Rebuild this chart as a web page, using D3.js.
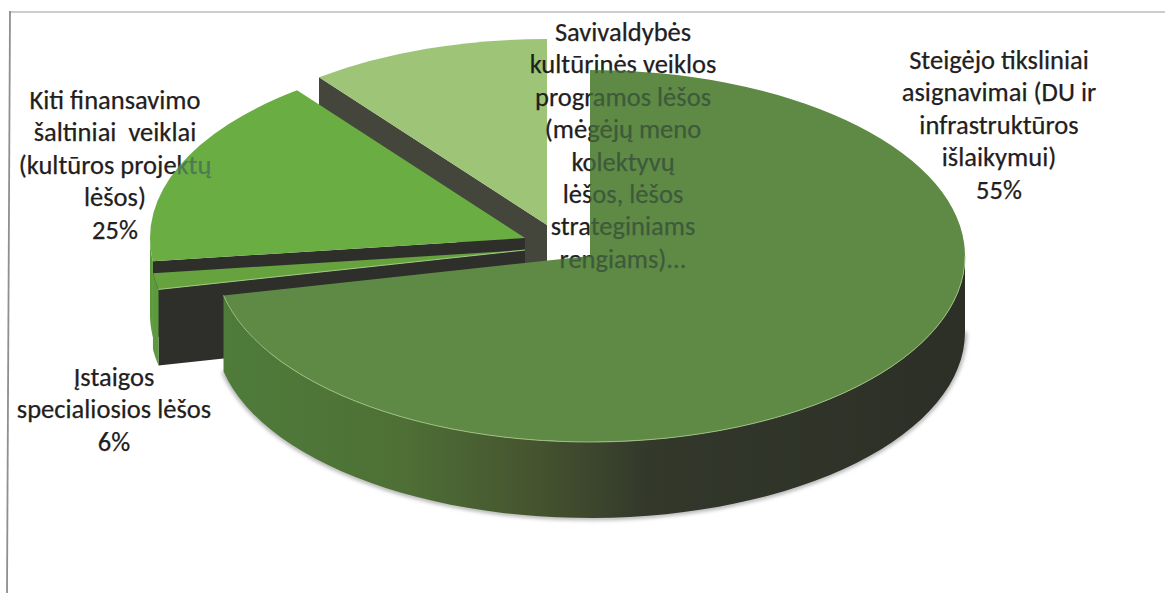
<!DOCTYPE html>
<html><head><meta charset="utf-8">
<script src="https://cdn.jsdelivr.net/npm/d3@7"></script>
<style>html,body{margin:0;padding:0;background:#fff}svg{display:block}text{font-family:Carlito,Lato,"Open Sans",sans-serif;font-size:26.5px;stroke-width:.25px}</style>
</head><body><svg id="c" width="1165" height="593"></svg>
<script>
// drawn angular shares, clockwise from 12 o'clock (as they appear in the picture)
const sliceNames = ["Steigėjo tiksliniai asignavimai","Įstaigos specialiosios lėšos","Kiti finansavimo šaltiniai","Savivaldybės programos lėšos"];
const drawnShares = [71.6, 1.4, 16.6, 10.4];
const labelLines = [
  ["Steigėjo tiksliniai","asignavimai (DU ir","infrastruktūros","išlaikymui)","55%"],
  ["Įstaigos","specialiosios lėšos","6%"],
  ["Kiti finansavimo","šaltiniai  veiklai","(kultūros projektų","lėšos)","25%"],
  ["Savivaldybės","kultūrinės veiklos","programos lėšos","(mėgėjų meno","kolektyvų","lėšos, lėšos","strateginiams","rengiams)..."]
];
const topColors  = ["#5f8a45","#66a33f","#6aae43","#9ec577"];
const wallColors = [null,"#2e2f2a","#2e2f2a","#44463c"];
const svg = d3.select("#c");
const RX = 375, RY = 186, DEPTH = 76;
const centers = [[590,256],[525,250],[525,238],[547,225]];
const labelPos = [[999,69],[114,386],[115,109],[623,41]];
const labelGap = 32.4;

const defs = svg.append("defs");
defs.append("filter").attr("id","soft").append("feGaussianBlur").attr("stdDeviation",2);
const g = defs.append("linearGradient").attr("id","wall").attr("gradientUnits","userSpaceOnUse")
  .attr("x1",215).attr("x2",965).attr("y1",0).attr("y2",0);
[[0,"#4f7c3a"],[0.247,"#4e7036"],[0.42,"#46552f"],[0.58,"#33382b"],[1,"#2c2f26"]]
  .forEach(([o,c])=>g.append("stop").attr("offset",o).attr("stop-color",c));

const pie = d3.pie().sort(null).value(d=>d)(drawnShares);
const pt = (c,a,dz=0)=>[c[0]+RX*Math.sin(a), c[1]-RY*Math.cos(a)+dz];
const arcPts = (c,a0,a1,dz)=>d3.range(0,61).map(i=>pt(c,a0+(a1-a0)*i/60,dz));
const line = d3.line();
const arc = d3.arc().innerRadius(0).outerRadius(RX);
const topPath = i=>arc({startAngle:pie[i].startAngle,endAngle:pie[i].endAngle});
const topTf = i=>`translate(${centers[i][0]},${centers[i][1]}) scale(1,${RY/RX})`;

defs.append("clipPath").attr("id","clip0").append("path").attr("d",topPath(0)).attr("transform",topTf(0));
defs.append("clipPath").attr("id","clip2").append("path").attr("d",topPath(2)).attr("transform",topTf(2));

// frame: only the top and left rules show
svg.append("line").attr("x1",9).attr("x2",1165).attr("y1",12).attr("y2",12).attr("stroke","#bdbdbd").attr("stroke-width",1.5);
svg.append("line").attr("x1",10).attr("x2",7).attr("y1",11).attr("y2",593).attr("stroke","#8f8f8f").attr("stroke-width",1.8);

function writeLabels(sel, fill, idx){
  idx.forEach(i=>{
    const t = sel.append("text").attr("text-anchor","middle").attr("fill",fill).attr("stroke",fill).attr("xml:space","preserve");
    labelLines[i].forEach((s,j)=>t.append("tspan")
      .attr("x",labelPos[i][0]).attr("y",labelPos[i][1]+j*labelGap).text(s));
  });
}
writeLabels(svg.append("g"),"#1f2020",[0,1,2]);

// soft vertical shadows beside the gap
svg.append("line").attr("x1",550).attr("x2",550).attr("y1",143).attr("y2",262).attr("stroke","#aaa").attr("stroke-width",3).attr("filter","url(#soft)");
svg.append("line").attr("x1",587).attr("x2",587).attr("y1",145).attr("y2",258).attr("stroke","#aaa").attr("stroke-width",3).attr("filter","url(#soft)");

function drawSlice(i){
  const d = pie[i], c = centers[i];
  const layer = svg.append("g");
  if(i>0){
    const e = pt(c,d.startAngle);
    layer.append("path").attr("d",line([c,e,[e[0],e[1]+DEPTH],[c[0],c[1]+DEPTH]])+"Z").attr("fill",wallColors[i]);
  }
  if(i===0){
    const a0 = Math.PI/2, a1 = d.endAngle;
    const top = arcPts(c,a0,a1,0), bot = arcPts(c,a0,a1,DEPTH);
    layer.append("path").attr("d",line(bot)).attr("fill","none").attr("stroke","#888").attr("stroke-width",3).attr("filter","url(#soft)");
    layer.append("path").attr("d",line(top.concat(bot.slice().reverse()))+"Z").attr("fill","url(#wall)");
  } else if(i===1 || i===2){
    const a1 = Math.min(d.endAngle,1.5*Math.PI);
    const top = arcPts(c,d.startAngle,a1,0), bot = top.map(p=>[p[0],p[1]+DEPTH]);
    if(i===2) layer.append("line").attr("x1",top[0][0]-2).attr("x2",top[0][0]-2).attr("y1",290).attr("y2",top[0][1]+DEPTH)
      .attr("stroke","#888").attr("stroke-width",3).attr("filter","url(#soft)");
    layer.append("path").attr("d",line(top.concat(bot.slice().reverse()))+"Z").attr("fill","#5d9a3d");
  }
  layer.append("path").attr("d",topPath(i)).attr("transform",topTf(i)).attr("fill",topColors[i]);
  if(i===0) layer.append("path").attr("d",line(arcPts(c,Math.PI/2,d.endAngle,0))).attr("fill","none")
    .attr("stroke","#9dbd80").attr("stroke-width",1);
  if(i===1){
    const e = pt(c,d.startAngle);
    layer.append("path").attr("d",line([c,e])).attr("stroke","#a5cb85").attr("stroke-width",1).attr("fill","none");
  }
}
drawSlice(3);
// this label sits in front of the light slice but behind the main one
writeLabels(svg.append("g"),"#1f2020",[3]);
[2,1,0].forEach(drawSlice);

// covered label parts show through faintly
writeLabels(svg.append("g").attr("clip-path","url(#clip0)"),"#3e5a3b",[3]);
writeLabels(svg.append("g").attr("clip-path","url(#clip2)"),"#4f7a52",[2]);
</script></body></html>
